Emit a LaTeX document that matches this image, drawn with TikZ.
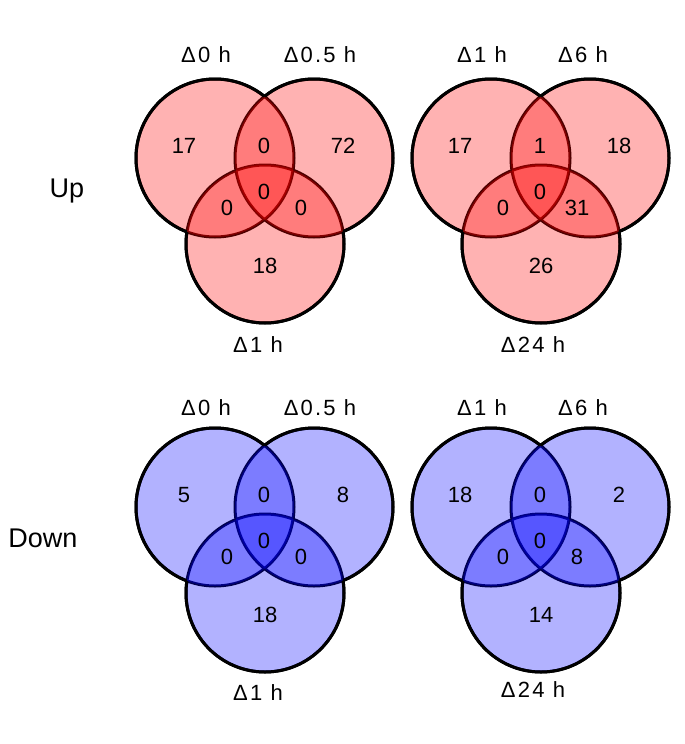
\documentclass[tikz,border=0pt]{standalone}
\usepackage{fontspec}
\setmainfont{Liberation Sans}
\newfontfamily\lblfont[LetterSpace=10]{Liberation Sans}
\newcommand\myvenn[3]{%
 \begin{scope}[shift={#3}]
  \coordinate (#1A) at (0,0);
  \coordinate (#1B) at (99,0);
  \coordinate (#1C) at (50,86);
  \draw[ring] (#1A) circle[radius=79] (#1B) circle[radius=79] (#1C) circle[radius=79];
  \fill[#2, fill opacity=0.3] (#1A) circle[radius=79];
  \fill[#2, fill opacity=0.3] (#1B) circle[radius=79];
  \fill[#2, fill opacity=0.3] (#1C) circle[radius=79];
  \begin{scope}[even odd rule]
    \clip (-120,-120) rectangle (220,200) (#1B) circle[radius=79];
    \clip (-120,-120) rectangle (220,200) (#1C) circle[radius=79];
    \draw[ring] (#1A) circle[radius=79];
  \end{scope}
  \begin{scope}[even odd rule]
    \clip (-120,-120) rectangle (220,200) (#1A) circle[radius=79];
    \clip (-120,-120) rectangle (220,200) (#1C) circle[radius=79];
    \draw[ring] (#1B) circle[radius=79];
  \end{scope}
  \begin{scope}[even odd rule]
    \clip (-120,-120) rectangle (220,200) (#1A) circle[radius=79];
    \clip (-120,-120) rectangle (220,200) (#1B) circle[radius=79];
    \draw[ring] (#1C) circle[radius=79];
  \end{scope}
 \end{scope}}
\newcommand\vennnums[8]{%
  \node[num] (#1nA)   at ([shift={(-31,-12)}]#1A) {#2};
  \node[num] (#1nAB)  at ([shift={(49,-12)}]#1A) {#3};
  \node[num] (#1nB)   at ([shift={(128,-12)}]#1A) {#4};
  \node[num] (#1nABC) at ([shift={(49,34)}]#1A) {#5};
  \node[num] (#1nAC)  at ([shift={(12,50)}]#1A) {#6};
  \node[num] (#1nBC)  at ([shift={(86,50)}]#1A) {#7};
  \node[num] (#1nC)   at ([shift={(50,108)}]#1A) {#8};
}
\begin{document}
\begin{tikzpicture}[x=1pt,y=-1pt,
  num/.style={font=\fontsize{22}{22}\selectfont, inner sep=0pt},
  lbl/.style={font=\lblfont\fontsize{22}{22}\selectfont, inner sep=0pt},
  rowlbl/.style={font=\fontsize{27}{27}\selectfont, inner sep=0pt, anchor=base},
  ring/.style={line width=3pt, draw=black}]
\useasboundingbox (0,0) rectangle (685,744);
\fill[white] (0,0) rectangle (685,744);

\myvenn{ul}{red}{(215,158)}
\myvenn{ur}{red}{(491,158)}
\myvenn{dl}{blue}{(215,507)}
\myvenn{dr}{blue}{(491,507)}

\vennnums{ul}{17}{0}{72}{0}{0}{0}{18}
\vennnums{ur}{17}{1}{18}{0}{0}{31}{26}
\vennnums{dl}{5}{0}{8}{0}{0}{0}{18}
\vennnums{dr}{18}{0}{2}{0}{0}{8}{14}

\node[lbl] (ulLA) at (206,55) {Δ0 h};
\node[lbl] (ulLB) at (320,55) {Δ0.5 h};
\node[lbl] (ulLC) at (258,345) {Δ1 h};
\node[lbl] (urLA) at (482,55) {Δ1 h};
\node[lbl] (urLB) at (583,55) {Δ6 h};
\node[lbl] (urLC) at (533,345) {Δ24 h};
\node[lbl] (dlLA) at (206,408) {Δ0 h};
\node[lbl] (dlLB) at (320,408) {Δ0.5 h};
\node[lbl] (dlLC) at (258,693) {Δ1 h};
\node[lbl] (drLA) at (482,408) {Δ1 h};
\node[lbl] (drLB) at (583,408) {Δ6 h};
\node[lbl] (drLC) at (533,690) {Δ24 h};

\node[rowlbl] (up) at (67,197) {Up};
\node[rowlbl] (down) at (43,547) {Down};
\end{tikzpicture}
\end{document}
